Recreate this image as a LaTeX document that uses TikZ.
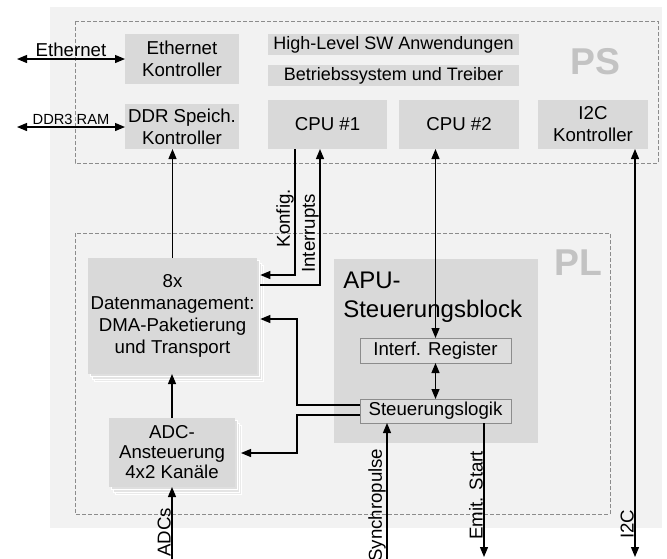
\documentclass[tikz,border=0pt]{standalone}
\usepackage{fontspec}
\setmainfont{Liberation Sans}
\usetikzlibrary{arrows.meta, shadows, positioning, calc}
\definecolor{hintergrund}{HTML}{F2F2F2}
\definecolor{kastengrau}{HTML}{D9D9D9}
\definecolor{registergrau}{HTML}{DEDEDE}
\definecolor{schriftgrau}{HTML}{C3C3C3}
\definecolor{randgrau}{HTML}{8C8C8C}
\tikzset{kasten/.style={fill=kastengrau, inner sep=0pt, outer sep=0pt, align=center,
		font=\fontsize{14}{16.5}\selectfont},
	stapel/.style={
		general shadow={fill=kastengrau!55, draw=white, shadow xshift=4.5pt, shadow yshift=-5.6pt},
		general shadow={fill=kastengrau!70, draw=white, shadow xshift=3pt, shadow yshift=-3.75pt},
		general shadow={fill=kastengrau!85, draw=white, shadow xshift=1.5pt, shadow yshift=-1.9pt}},
	register/.style={kasten, fill=registergrau, draw=randgrau, line width=0.6pt},
	bereich/.style={draw=randgrau, dash pattern=on 3pt off 1.5pt, line width=0.6pt},
	bereichname/.style={text=schriftgrau, font=\bfseries\fontsize{28}{28}\selectfont},
	seitlich/.style={rotate=90, anchor=south, inner sep=0.5pt,
		font=\fontsize{14}{16.5}\selectfont},
}

\begin{document}
\begin{tikzpicture}[x=0.75pt, y=-0.75pt, >={Triangle[length=7.5pt,width=6pt]}]
		\useasboundingbox (0,0) rectangle (667,558);
		%\draw[very thin, gray!50] (0,0) grid[step=50] (667,558);
		\fill[hintergrund] (50,7) rectangle (662,528);
		\draw[bereich] (75,21) rectangle (658,163);
		\draw[bereich] (75,233) rectangle (610,514);
		\node[bereichname] (ps) at (595.5,61.5) {PS};
		\node[bereichname] (pl) at (578,262.5) {PL};

		% PS
		\node[kasten, minimum width=85.5pt, minimum height=37.5pt] (eth) at (182,59) {Ethernet\\Kontroller};
		\node[kasten, minimum width=85.5pt, minimum height=33.75pt, below=15pt of eth] (ddr) {DDR Speich.\\Kontroller};
		\node[kasten, minimum width=188.25pt, minimum height=15.75pt, font=\fontsize{13.5}{16}\selectfont] (hl) at (393.5,44.5) {High-Level SW Anwendungen};
		\node[kasten, minimum width=188.25pt, minimum height=15.75pt, font=\fontsize{13.5}{16}\selectfont, below=7.5pt of hl] (os) {Betriebssystem und Treiber};
		\node[kasten, minimum width=89.25pt, minimum height=36.75pt] (cpu1) at (327.5,124.5) {CPU \#1};
		\node[kasten, minimum width=90pt, minimum height=36.75pt, right=9pt of cpu1] (cpu2) {CPU \#2};
		\node[kasten, minimum width=82.5pt, minimum height=36.75pt] (i2c) at (593,124.5) {I2C\\Kontroller};

		% PL
		\node[kasten, stapel, minimum width=126.75pt, minimum height=87pt] (dma) at (172.5,316) {8x\\Datenmanagement:\\DMA-Paketierung\\und Transport};
		\node[kasten, stapel, minimum width=94.5pt, minimum height=51.75pt, font=\fontsize{14}{15}\selectfont] (adc) at (172,452.5) {ADC-\\Ansteuerung\\4x2 Kanäle};
		\node[kasten, minimum width=153pt, minimum height=138pt] (apu) at (436,351) {};
		\node[anchor=north west, inner sep=0pt, align=left, font=\fontsize{18}{21.75}\selectfont] (apu-titel) at ([shift={(9,13)}]apu.north west) {APU-\\Steuerungsblock};
		\node[register, minimum width=113.25pt, minimum height=18.75pt] (reg) at (435.5,350.5) {Interf. Register};
		\node[register, minimum width=113.25pt, minimum height=18pt] (logik) at (435.5,411) {Steuerungslogik};

		\coordinate (dma-r) at ([xshift=2.5pt]dma.east);
		\coordinate (adc-r) at ([xshift=4.5pt]adc.east);
		\coordinate (eth-aussen) at (17,59);
		\coordinate (ddr-aussen) at (17,127);
		\coordinate (konfig) at (295,275);
		\coordinate (irq) at (320,285);
		\coordinate (knick) at (297,319);
		\coordinate (knick2) at (297,453);
		\coordinate (adcs) at (172,560);
		\coordinate (sync) at (387,560);
		\coordinate (emit) at (484,557);
		\coordinate (i2c-bus) at (635,557);

		\begin{scope}[line width=0.9pt]
			\draw[<->] (eth-aussen) -- (eth.west) node[midway, above, inner sep=1pt, font=\fontsize{14}{16.5}\selectfont] (eth-text) {Ethernet};
			\draw[<->] (ddr-aussen) -- (ddr-aussen -| ddr.west) node[midway, above, inner sep=1pt, font=\fontsize{11}{13}\selectfont] (ddr-text) {DDR3 RAM};
			\draw[->] (dma.north) -- (dma.north |- ddr.south);
			\draw[->] (konfig |- cpu1.south) -- (konfig) node[seitlich, pos=0.55] (konfig-text) {Konfig.} -- (konfig -| dma-r);
			\draw[->] (irq -| dma-r) -- (irq) -- (irq |- cpu1.south) node[seitlich, pos=0.38] (irq-text) {Interrupts};
			\draw[<->] (reg.north |- cpu2.south) -- (reg.north);
			\draw[<->] (reg.south) -- (logik.north);
			\draw[->] ([yshift=4.5pt]logik.west) -| (knick) -- (knick -| dma-r);
			\draw[->] ([yshift=-3pt]logik.west) -| (knick2) -- (knick2 -| adc-r);
			\draw[->] (adc.north) -- (adc.north |- dma.south);
			\draw[->] (adcs) -- (adc.south) node[seitlich, pos=0.38] (adcs-text) {ADCs};
			\draw[->] (sync) -- (sync |- logik.south) node[seitlich, pos=0.4] (sync-text) {Synchropulse};
			\draw[->] (emit |- logik.south) -- (emit) node[seitlich, pos=0.54] (emit-text) {Emit. Start};
			\draw[<->] (i2c-bus |- i2c.south) -- (i2c-bus) node[seitlich, pos=0.92] (i2c-text) {I2C};
		\end{scope}
	\end{tikzpicture}
\end{document}
